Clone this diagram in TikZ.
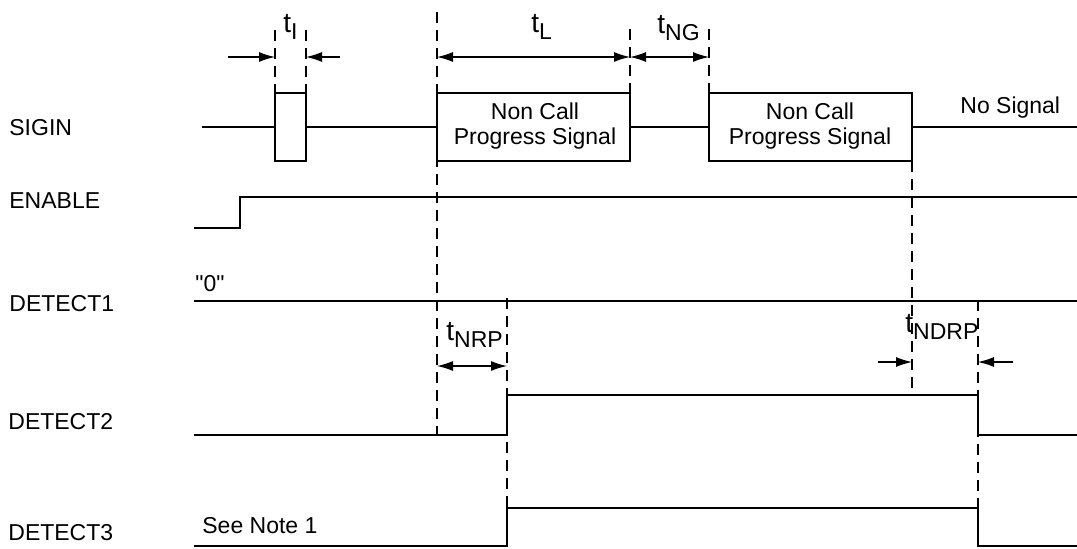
\documentclass[tikz,border=0pt]{standalone}
\usepackage{fontspec}
\setmainfont{Liberation Sans}
\newfontfamily\rawfont{Liberation Sans}
\usetikzlibrary{arrows.meta}

\newcommand{\tname}[1]{{\fontsize{14}{14}\selectfont t}\raisebox{-3.5pt}{\fontsize{11.5}{11.5}\selectfont #1}}

\begin{document}
\begin{tikzpicture}[x=0.5pt,y=-0.5pt,font=\fontsize{11.5}{12.8}\selectfont]

\tikzset{wave/.style={line width=0.85pt},
  guide/.style={line width=1.1pt,dash pattern=on 5.5pt off 3.5pt},
  dim/.style={line width=0.6pt,-{Latex[length=8pt,width=5pt]}},
  ddim/.style={line width=0.6pt,{Latex[length=8pt,width=5pt]}-{Latex[length=8pt,width=5pt]}},
  sig/.style={anchor=west,inner sep=0pt},
  tlab/.style={anchor=base west,inner sep=0pt}}

\useasboundingbox (0,0) rectangle (1077,548);

% time marks
\coordinate (Ia) at (275,0);
\coordinate (Ib) at (306,0);
\coordinate (La) at (437,0);
\coordinate (Lb) at (630,0);
\coordinate (Ga) at (709,0);
\coordinate (Gb) at (912,0);
\coordinate (Ra) at (507,0);
\coordinate (Rb) at (978,0);

% levels
\coordinate (S) at (0,127);
\coordinate (Shi) at (0,93);
\coordinate (Slo) at (0,161);

% SIGIN
\draw [wave] (202,127) -- (Ia |- S);
\draw [wave] (Ia |- Shi) rectangle (Ib |- Slo);
\draw [wave] (Ib |- S) -- (La |- S);
\draw [wave] (La |- Shi) rectangle (Lb |- Slo);
\draw [wave] (Lb |- S) -- (Ga |- S);
\draw [wave] (Ga |- Shi) rectangle (Gb |- Slo);
\draw [wave] (Gb |- S) -- (1077,127);

% ENABLE
\draw [wave] (194,228) -- (240,228) -- (240,197) -- (1077,197);

% DETECT1
\draw [wave] (194,301) -- (1077,301);

% DETECT2
\draw [wave] (194,435) -- (Ra |- 0,435) -- (Ra |- 0,395) -- (Rb |- 0,395) -- (Rb |- 0,435) -- (1077,435);

% DETECT3
\draw [wave] (194,546) -- (Ra |- 0,546) -- (Ra |- 0,508) -- (Rb |- 0,508) -- (Rb |- 0,546) -- (1077,546);

% dashed guides
\draw [guide] (Ia |- 0,30) -- (Ia |- Shi);
\draw [guide] (Ib |- 0,30) -- (Ib |- Shi);
\draw [guide] (La |- 0,12) -- (La |- 0,435);
\draw [guide] (Lb |- 0,29) -- (Lb |- Shi);
\draw [guide] (Ga |- 0,29) -- (Ga |- Shi);
\draw [guide] (Gb |- Slo) -- (Gb |- 0,395);
\draw [guide] (Ra |- 0,298) -- (Ra |- 0,508);
\draw [guide] (Rb |- 0,300) -- (Rb |- 0,508);

% dimension arrows
\draw [dim] (228,57) -- (Ia |- 0,57);
\draw [dim] (340,57) -- (Ib |- 0,57);
\draw [ddim] (La |- 0,57) -- (Lb |- 0,57);
\draw [ddim] (Lb |- 0,57) -- (Ga |- 0,57);
\draw [ddim] (La |- 0,366) -- (Ra |- 0,366);
\draw [dim] (878,362) -- (Gb |- 0,362);
\draw [dim] (1013,362) -- (Rb |- 0,362);

% signal names
\node [sig] (nsigin) at (9,128) {SIGIN};
\node [sig] (nenable) at (9,201) {ENABLE};
\node [sig] (ndet1) at (9,304) {DETECT1};
\node [sig] (ndet2) at (8,422) {DETECT2};
\node [sig] (ndet3) at (8,533) {DETECT3};

% texts
\node [align=center,inner sep=0pt] (nc1) at (535,126) {Non Call\\Progress Signal};
\node [align=center,inner sep=0pt] (nc2) at (810,126) {Non Call\\Progress Signal};
\node [sig] (nosig) at (960,108) {No Signal};
\node [sig] (zero) at (195,284) {\rawfont "0"};
\node [sig] (note) at (202,526) {See Note 1};

% time labels
\node [tlab] (tI) at (283,32) {\tname{I}};
\node [tlab] (tL) at (531,32) {\tname{L}};
\node [tlab] (tNG) at (657,33) {\tname{NG}};
\node [tlab] (tNRP) at (446,340) {\tname{NRP}};
\node [tlab] (tNDRP) at (905,332) {\tname{NDRP}};

\end{tikzpicture}
\end{document}
